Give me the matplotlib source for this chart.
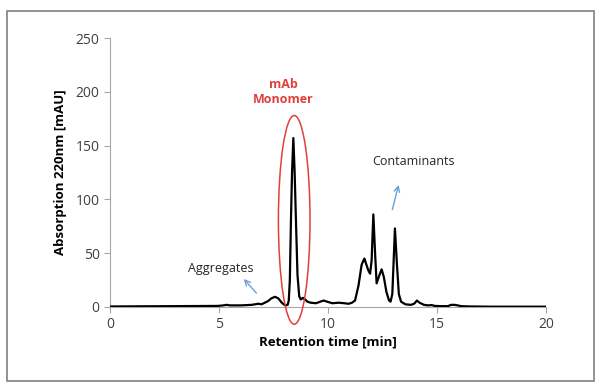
import matplotlib.pyplot as plt
from matplotlib.patches import Ellipse, Rectangle

# chromatogram: retention time [min], absorption [mAU]
time_min = [0, 4.95, 5.2, 5.35, 5.5, 6.0, 6.5, 6.8, 6.95, 7.1, 7.25, 7.4, 7.57, 7.72, 7.88,
            8.03, 8.15, 8.2, 8.25, 8.3, 8.35, 8.41, 8.47, 8.53, 8.6, 8.68, 8.75, 8.85, 8.95,
            9.05, 9.2, 9.45, 9.65, 9.8, 9.95, 10.2, 10.5, 10.75, 10.95, 11.1, 11.24, 11.4,
            11.54, 11.62, 11.67, 11.75, 11.85, 11.93, 12.0, 12.08, 12.16, 12.23, 12.33,
            12.46, 12.56, 12.68, 12.8, 12.87, 12.95, 13.0, 13.07, 13.17, 13.25, 13.35, 13.55,
            13.8, 13.95, 14.08, 14.2, 14.4, 14.6, 14.75, 14.9, 15.2, 15.5, 15.65, 15.8, 15.95,
            16.1, 16.5, 17.5, 20]
absorb = [0.5, 1.0, 1.5, 2.0, 1.5, 1.5, 2.0, 3.0, 2.5, 4.0, 5.5, 8.0, 9.5, 8.0, 4.0,
          1.5, 2.0, 6, 25, 80, 125, 157, 125, 80, 30, 10, 7, 8.5, 7,
          5, 4, 3.5, 5, 6, 5, 3.5, 4, 3.5, 3, 4, 6, 20,
          39, 43, 45, 40, 34, 31, 43, 86, 50, 22, 28,
          35, 28, 14, 6, 5, 12, 37, 73, 37, 12, 5, 2.5,
          2, 3, 6, 4, 2, 1.5, 1.8, 1, 0.8, 0.8, 2, 2, 1.5,
          0.8, 0.5, 0.3, 0.3]

x_ticks = [0, 5, 10, 15, 20]
y_ticks = [0, 50, 100, 150, 200, 250]

fig = plt.figure(figsize=(6, 3.89), dpi=100)
plt.rcParams['font.family'] = ['Open Sans', 'DejaVu Sans']

# grey frame around the whole picture
fig.patches.append(Rectangle((7 / 600, 1 - 381 / 389), 587 / 600, 370 / 389,
                             transform=fig.transFigure, fill=False,
                             edgecolor='#7f7f7f', linewidth=1.2))

ax = fig.add_axes([110 / 600, 1 - 307 / 389, 436 / 600, 269 / 389])
ax.plot(time_min, absorb, color='black', linewidth=1.6, zorder=3)

ax.set_xlim(0, 20)
ax.set_ylim(0, 250)
ax.set_xticks(x_ticks)
ax.set_yticks(y_ticks)
for side in ['top', 'right']:
    ax.spines[side].set_visible(False)
for side in ['left', 'bottom']:
    ax.spines[side].set_color('#a6a6a6')
ax.tick_params(colors='#a6a6a6', labelcolor='#404040', labelsize=10, length=4)
ax.set_xlabel('Retention time [min]', fontsize=9.5, fontweight='bold', labelpad=2)
ax.set_ylabel('Absorption 220nm [mAU]', fontsize=9.5, fontweight='bold', labelpad=6)

# monomer peak marker
ax.add_patch(Ellipse((8.45, 81), 1.45, 194, fill=False, edgecolor='#e0403c',
                     linewidth=1.1, clip_on=False, zorder=4))
ax.text(7.95, 200, 'mAb\nMonomer', color='#e0403c', fontsize=9, fontweight='bold',
        ha='center', va='center', linespacing=1.25)

ax.text(5.1, 36, 'Aggregates', fontsize=9, color='#262626', ha='center', va='center')
ax.annotate('', xy=(6.05, 28), xytext=(6.8, 11),
            arrowprops=dict(arrowstyle='->', color='#6f9fd8', lw=1))
ax.text(13.9, 135, 'Contaminants', fontsize=9, color='#262626', ha='center', va='center')
ax.annotate('', xy=(13.27, 116), xytext=(12.92, 88),
            arrowprops=dict(arrowstyle='->', color='#6f9fd8', lw=1))

fig.savefig('out.png', dpi=100)
